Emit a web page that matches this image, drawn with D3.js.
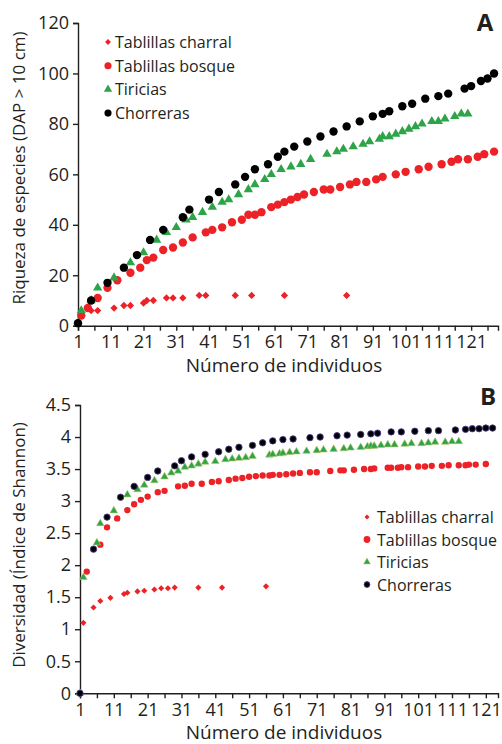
<!DOCTYPE html>
<html lang="es">
<head>
<meta charset="UTF-8">
<title>Riqueza y diversidad de especies</title>
<script src="https://d3js.org/d3.v7.min.js"></script>
<style>
  body { margin: 0; background: #fff; }
  svg { display: block; font-family: "Open Sans", sans-serif; }
  .axis path, .axis line { stroke: #231f20; stroke-width: 1.4; }
  .axis text { fill: #231f20; font-size: 18px; font-family: "Open Sans", sans-serif; }
  .lbl { fill: #231f20; }
</style>
</head>
<body>
<svg id="chart" width="502" height="744"></svg>
<script>
// ---- Panel A: riqueza de especies ----
const charralA_x = [2, 5, 7, 12, 15, 17, 21, 22, 24, 28, 30, 33, 38, 40, 49, 54, 64, 83];
const charralA_y = [4, 6, 6, 7, 8, 8, 9, 10, 10, 11, 11, 11, 12, 12, 12, 12, 12, 12];

const bosqueA_x = [2, 4, 7, 10, 13, 17, 20, 22, 24, 27, 30, 33, 36, 40, 42, 45, 48, 51, 53, 55, 57, 60, 62, 64, 66, 68, 70, 73, 76, 78, 81, 84, 86, 89, 92, 94, 98, 101, 105, 108, 112, 115, 117, 120, 123, 125, 128];
const bosqueA_y = [4, 7, 11, 15, 18, 21, 23, 26, 27, 30, 31, 33, 35, 37, 38, 39, 41, 42, 44, 44, 45, 47, 48, 49, 50, 51, 52, 53, 54, 54, 55, 56, 57, 57, 58, 59, 60, 61, 62, 63, 64, 65, 66, 66, 67, 68, 69];

const tiriciasA_x = [1, 2, 5, 7, 12, 17, 21, 25, 28, 31, 34, 36, 39, 42, 45, 47, 50, 53, 55, 58, 60, 63, 66, 69, 72, 77, 80, 82, 85, 88, 90, 93, 94, 96, 98, 100, 102, 104, 106, 109, 111, 113, 116, 118, 120];
const tiriciasA_y = [1, 6, 10, 15, 19, 25, 29, 34, 37, 39, 42, 43, 45, 47, 49, 50, 52, 54, 56, 58, 60, 62, 63, 64, 66, 68, 69, 70, 71, 72, 73, 74, 75, 75, 76, 77, 78, 79, 80, 81, 81, 82, 83, 84, 84];

const chorrerasA_x = [1, 5, 10, 15, 19, 23, 27, 33, 35, 41, 44, 49, 52, 55, 59, 62, 64, 67, 71, 75, 79, 83, 87, 91, 94, 96, 100, 103, 107, 111, 114, 119, 121, 124, 126, 128];
const chorrerasA_y = [1, 10, 17, 23, 28, 34, 38, 43, 46, 50, 53, 56, 59, 62, 64, 67, 69, 71, 73, 75, 77, 79, 81, 83, 84, 85, 87, 88, 90, 91, 92, 94, 95, 97, 98, 100];

// ---- Panel B: índice de Shannon ----
const charralB_x = [2, 5, 7, 10, 14, 15, 18, 20, 23, 25, 27, 29, 36, 43, 56];
const charralB_y = [1.10, 1.34, 1.44, 1.49, 1.55, 1.57, 1.59, 1.60, 1.62, 1.64, 1.64, 1.65, 1.65, 1.65, 1.67];

const bosqueB_x = [3, 7, 9, 12, 15, 17, 19, 21, 24, 26, 30, 32, 34, 37, 40, 42, 45, 47, 49, 51, 53, 55, 57, 58, 60, 62, 64, 66, 69, 71, 75, 78, 79, 82, 85, 87, 88, 92, 93, 95, 96, 98, 101, 103, 105, 108, 110, 113, 115, 116, 118, 121];
const bosqueB_y = [1.90, 2.32, 2.59, 2.73, 2.86, 2.95, 3.02, 3.07, 3.14, 3.16, 3.23, 3.24, 3.27, 3.27, 3.30, 3.31, 3.33, 3.35, 3.36, 3.38, 3.39, 3.40, 3.40, 3.41, 3.41, 3.42, 3.43, 3.44, 3.45, 3.45, 3.47, 3.48, 3.48, 3.49, 3.50, 3.50, 3.51, 3.52, 3.52, 3.52, 3.53, 3.53, 3.54, 3.54, 3.55, 3.55, 3.56, 3.56, 3.56, 3.57, 3.57, 3.58];

const tiriciasB_x = [1, 2, 6, 7, 11, 15, 18, 20, 23, 26, 28, 30, 32, 34, 36, 38, 41, 44, 46, 48, 50, 52, 57, 58, 60, 61, 63, 65, 68, 71, 73, 76, 79, 81, 84, 86, 87, 88, 90, 92, 94, 97, 99, 102, 104, 106, 109, 111, 113];
const tiriciasB_y = [0, 1.81, 2.35, 2.65, 2.85, 3.10, 3.18, 3.25, 3.32, 3.38, 3.44, 3.47, 3.53, 3.55, 3.58, 3.61, 3.62, 3.65, 3.66, 3.67, 3.68, 3.70, 3.72, 3.73, 3.74, 3.75, 3.76, 3.77, 3.78, 3.79, 3.80, 3.81, 3.82, 3.83, 3.84, 3.85, 3.86, 3.86, 3.87, 3.88, 3.88, 3.89, 3.90, 3.90, 3.91, 3.92, 3.92, 3.93, 3.93];

const chorrerasB_x = [1, 5, 9, 13, 17, 21, 24, 29, 31, 34, 38, 42, 45, 48, 52, 55, 58, 61, 64, 69, 72, 77, 80, 84, 87, 89, 93, 96, 100, 104, 107, 112, 115, 117, 119, 121, 123];
const chorrerasB_y = [0, 2.25, 2.75, 3.06, 3.23, 3.37, 3.47, 3.55, 3.63, 3.69, 3.73, 3.77, 3.81, 3.84, 3.87, 3.91, 3.94, 3.96, 3.97, 3.99, 4.00, 4.02, 4.03, 4.04, 4.05, 4.06, 4.08, 4.08, 4.09, 4.10, 4.10, 4.11, 4.12, 4.13, 4.13, 4.14, 4.14];

const seriesNames = ["Tablillas charral", "Tablillas bosque", "Tiricias", "Chorreras"];
const yTicksA = [0, 20, 40, 60, 80, 100, 120];
const yTicksB = [0, 0.5, 1, 1.5, 2, 2.5, 3, 3.5, 4, 4.5];

const red = "#ec2227", green = "#2ea449", black = "#000";

const svg = d3.select("#chart");
const zip = (xs, ys) => xs.map((x, i) => [x, ys[i]]);

function drawPanel(p) {
  const x = d3.scaleLinear().domain(p.xDomain).range(p.xRange);
  const y = d3.scaleLinear().domain(p.yDomain).range(p.yRange);
  const g = svg.append("g");

  // x axis: ticks every 5, labels every 10
  g.append("g")
    .attr("class", "axis")
    .attr("transform", `translate(0,${p.yRange[0]})`)
    .call(d3.axisBottom(x)
      .tickValues(d3.range(1, p.xMaxTick + 1, 5))
      .tickFormat(v => (v - 1) % 10 === 0 ? v : "")
      .tickSizeOuter(0).tickSize(5).tickPadding(5));

  g.append("g")
    .attr("class", "axis")
    .attr("transform", `translate(${p.xRange[0]},0)`)
    .call(d3.axisLeft(y).tickValues(p.yTicks)
      .tickFormat(d => d)
      .tickSizeOuter(0).tickSize(5).tickPadding(4));

  // series
  p.series.forEach(s => {
    g.append("g").selectAll("path")
      .data(zip(s.xs, s.ys))
      .join("path")
      .attr("transform", d => `translate(${x(d[0])},${y(d[1])})`)
      .attr("d", d3.symbol(s.type, s.size))
      .attr("fill", s.color)
      .attr("stroke", s.stroke || "none")
      .attr("stroke-width", s.strokeWidth || 0);
  });

  // legend
  const lg = g.append("g").attr("transform", `translate(${p.legend.x},${p.legend.y})`);
  p.series.forEach((s, i) => {
    const row = lg.append("g").attr("transform", `translate(0,${i * p.legend.step})`);
    row.append("path")
      .attr("d", d3.symbol(s.type, s.legendSize))
      .attr("fill", s.color)
      .attr("stroke", s.stroke || "none")
      .attr("stroke-width", s.strokeWidth || 0);
    row.append("text")
      .attr("class", "lbl")
      .attr("x", p.legend.textDx)
      .attr("y", 6)
      .attr("font-size", 16)
      .text(seriesNames[i]);
  });

  // axis titles
  g.append("text")
    .attr("class", "lbl")
    .attr("x", p.xTitle.x).attr("y", p.xTitle.y)
    .attr("text-anchor", "middle")
    .attr("font-size", 19)
    .text("Número de individuos");

  g.append("text")
    .attr("class", "lbl")
    .attr("transform", `translate(${p.yTitle.x},${p.yTitle.y}) rotate(-90)`)
    .attr("text-anchor", "middle")
    .attr("font-size", 17)
    .text(p.yTitle.text);

  g.append("text")
    .attr("class", "lbl")
    .attr("x", p.letter.x).attr("y", p.letter.y)
    .attr("text-anchor", "middle")
    .attr("font-size", 24)
    .attr("font-weight", "bold")
    .text(p.letter.text);
}

drawPanel({
  xDomain: [1, 129.2], xRange: [78, 498], xMaxTick: 126,
  yDomain: [0, 120], yRange: [325.7, 23], yTicks: yTicksA,
  series: [
    { xs: charralA_x, ys: charralA_y, type: d3.symbolDiamond2, size: 34, legendSize: 22, color: red },
    { xs: bosqueA_x, ys: bosqueA_y, type: d3.symbolCircle, size: 55, legendSize: 40, color: red },
    { xs: tiriciasA_x, ys: tiriciasA_y, type: d3.symbolTriangle, size: 38, legendSize: 30, color: green },
    { xs: chorrerasA_x, ys: chorrerasA_y, type: d3.symbolCircle, size: 55, legendSize: 40, color: black }
  ],
  legend: { x: 108, y: 42, step: 23.7, textDx: 7 },
  xTitle: { x: 284, y: 372 },
  yTitle: { x: 25, y: 168, text: "Riqueza de especies (DAP > 10 cm)" },
  letter: { x: 485, y: 31, text: "A" }
});

drawPanel({
  xDomain: [1, 124.6], xRange: [80, 498], xMaxTick: 121,
  yDomain: [0, 4.5], yRange: [693.3, 405], yTicks: yTicksB,
  series: [
    { xs: charralB_x, ys: charralB_y, type: d3.symbolDiamond2, size: 24, legendSize: 16, color: red },
    { xs: bosqueB_x, ys: bosqueB_y, type: d3.symbolCircle, size: 32, legendSize: 36, color: red },
    { xs: tiriciasB_x, ys: tiriciasB_y, type: d3.symbolTriangle, size: 25, legendSize: 20, color: green, stroke: "#b5c46a", strokeWidth: 0.6 },
    { xs: chorrerasB_x, ys: chorrerasB_y, type: d3.symbolCircle, size: 32, legendSize: 26, color: black, stroke: "#4a3b86", strokeWidth: 0.9 }
  ],
  legend: { x: 367, y: 517, step: 22.5, textDx: 10 },
  xTitle: { x: 284, y: 739 },
  yTitle: { x: 25, y: 545, text: "Diversidad (Índice de Shannon)" },
  letter: { x: 488, y: 405, text: "B" }
});
</script>
</body>
</html>
